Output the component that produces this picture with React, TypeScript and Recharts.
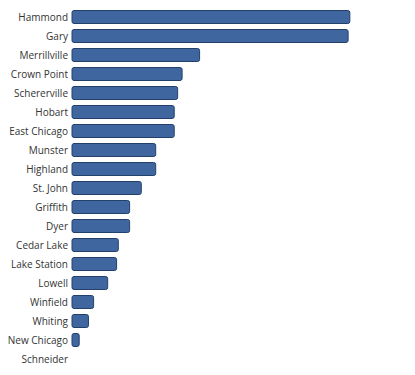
import { BarChart, Bar, XAxis, YAxis } from "recharts";

const towns = [
  "Hammond", "Gary", "Merrillville", "Crown Point", "Schererville", "Hobart",
  "East Chicago", "Munster", "Highland", "St. John", "Griffith", "Dyer",
  "Cedar Lake", "Lake Station", "Lowell", "Winfield", "Whiting", "New Chicago", "Schneider",
];
const values = [81.0, 80.5, 37.2, 32.1, 30.8, 29.8, 29.8, 24.4, 24.4, 20.2, 16.8, 16.8, 13.5, 13.0, 10.4, 6.3, 4.8, 2.1, 0];

const data = towns.map((name, i) => ({ name, value: values[i] }));

// single-line labels, recharts would wrap the long ones otherwise
function TownTick(props: any) {
  const { x, y, payload } = props;
  return (
    <text
      x={x}
      y={y}
      dx={6}
      dy={3.5}
      textAnchor="end"
      fill="#333"
      fontSize={10}
      fontFamily="'Open Sans', sans-serif"
    >
      {payload.value}
    </text>
  );
}

export default function App() {
  return (
    <div style={{ position: "absolute", left: 0, top: 0, width: 415, height: 375, background: "#fff" }}>
      <BarChart
        width={415}
        height={375}
        data={data}
        layout="vertical"
        margin={{ top: 7.5, right: 0, left: 0, bottom: 6.5 }}
        barCategoryGap={3}
      >
        <XAxis type="number" domain={[0, 100]} hide />
        <YAxis
          type="category"
          dataKey="name"
          width={72}
          axisLine={false}
          tickLine={false}
          tickMargin={4}
          interval={0}
          tick={<TownTick />}
        />
        <Bar
          dataKey="value"
          fill="#4066a0"
          stroke="#22406a"
          strokeWidth={1}
          radius={2}
          isAnimationActive={false}
        />
      </BarChart>
    </div>
  );
}
